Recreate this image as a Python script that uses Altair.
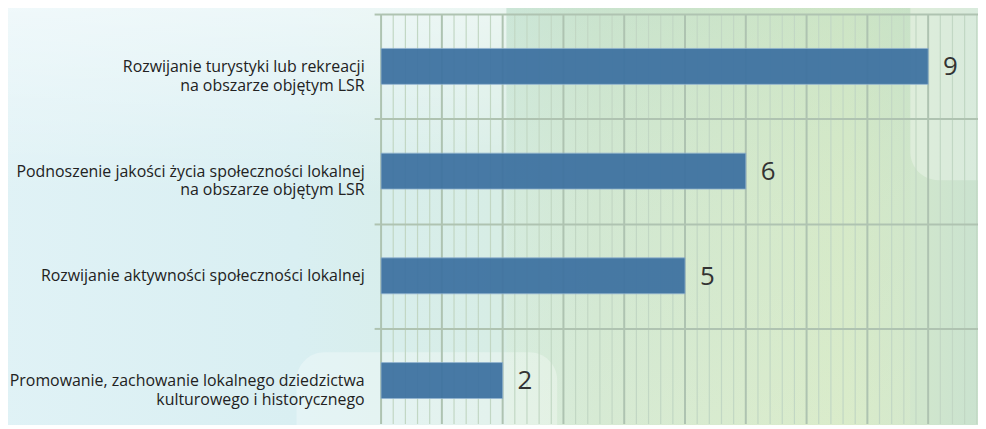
import altair as alt
import pandas as pd

# ---- data ----
categories = [
    "Rozwijanie turystyki lub rekreacji|na obszarze objętym LSR",
    "Podnoszenie jakości życia społeczności lokalnej|na obszarze objętym LSR",
    "Rozwijanie aktywności społeczności lokalnej",
    "Promowanie, zachowanie lokalnego dziedzictwa|kulturowego i historycznego",
]
values = [9, 6, 5, 2]
major_ticks = list(range(0, 11))
minor_ticks = [round(i * 0.2, 1) for i in range(0, 51) if i % 5 != 0]

df = pd.DataFrame({"cat": categories, "val": values})
major_df = pd.DataFrame({"v": major_ticks})
minor_df = pd.DataFrame({"v": minor_ticks})
bg_df = pd.DataFrame({"k": [0]})

xscale = alt.Scale(domain=[0, 10], range=[0, 611], nice=False, zero=True)
yscale = alt.Scale(domain=categories, range=[0, 421], paddingInner=0, paddingOuter=0)

def lin(stops, x2=1, y2=0):
    return alt.Gradient(
        gradient="linear",
        stops=[alt.GradientStop(color=c, offset=o) for o, c in stops],
        x1=0, y1=0, x2=x2, y2=y2,
    )

background = alt.Chart(bg_df).mark_rect(
    color=lin([(0, "#e0f2f6"), (0.3, "#d9eff2"), (0.5, "#d7ede5"), (0.6, "#d4e9d6"),
               (0.85, "#d8ebca"), (1, "#c8e1d0")])
).encode(x=alt.value(-390), x2=alt.value(620), y=alt.value(-20), y2=alt.value(430))

top_light = alt.Chart(bg_df).mark_rect(
    color=lin([(0, "rgba(255,255,255,0.55)"), (0.45, "rgba(255,255,255,0)"), (1, "rgba(255,255,255,0)")], x2=0, y2=1)
).encode(x=alt.value(-390), x2=alt.value(126), y=alt.value(-20), y2=alt.value(430))

center = alt.Chart(bg_df).mark_rect(
    color=lin([(0, "rgba(175,212,185,0.3)"), (0.5, "rgba(200,225,190,0.15)"), (1, "rgba(228,240,205,0.2)")], x2=0, y2=1)
).encode(x=alt.value(126), x2=alt.value(532), y=alt.value(-20), y2=alt.value(430))

deco_tr = alt.Chart(bg_df).mark_rect(color="#ffffff", opacity=0.28, cornerRadius=28).encode(
    x=alt.value(532), x2=alt.value(700), y=alt.value(-60), y2=alt.value(167))
deco_bl = alt.Chart(bg_df).mark_rect(color="#ffffff", opacity=0.3, cornerRadius=28).encode(
    x=alt.value(-85), x2=alt.value(177), y=alt.value(340), y2=alt.value(500))

minor = alt.Chart(minor_df).mark_rule(color="#c2d7c4", strokeWidth=1.2).encode(
    x=alt.X("v:Q", scale=xscale, axis=None))
major = alt.Chart(major_df).mark_rule(color="#aec3b1", strokeWidth=2).encode(
    x=alt.X("v:Q", scale=xscale, axis=None))

y_axis = alt.Axis(
    title=None, tickBand="extent", grid=True, gridColor="#afc3b1", gridWidth=2,
    ticks=True, tickSize=7, tickColor="#afc3b1", tickWidth=2, domain=False,
    labelFont="Open Sans", labelFontSize=16, labelColor="#222222",
    labelExpr="split(datum.label, '|')", labelLineHeight=19, labelPadding=10,
    labelLimit=400, zindex=1,
)

bars = alt.Chart(df).mark_bar(
    color="#3e72a1", opacity=0.94, stroke="#8fb1cf", strokeWidth=0.8,
    height=alt.RelativeBandSize(0.343),
).encode(
    y=alt.Y("cat:N", scale=yscale, sort=categories, axis=y_axis),
    x=alt.X("val:Q", scale=xscale, axis=None),
)
labels = alt.Chart(df).mark_text(
    align="left", baseline="middle", dx=15, dy=1, font="Open Sans", fontSize=26, color="#333333"
).encode(
    y=alt.Y("cat:N", scale=yscale, sort=categories),
    x=alt.X("val:Q", scale=xscale),
    text="val:Q",
)

chart = alt.layer(background, top_light, center, deco_tr, deco_bl, minor, major, bars, labels).properties(
    width=600, height=412,
    autosize=alt.AutoSizeParams(type="none"),
    padding={"left": 375, "top": 5, "right": 0, "bottom": 0},
).configure_view(stroke=None).configure(background="#e2f1f1")

chart.save("out.html", embed_options={"renderer": "svg", "actions": False})
